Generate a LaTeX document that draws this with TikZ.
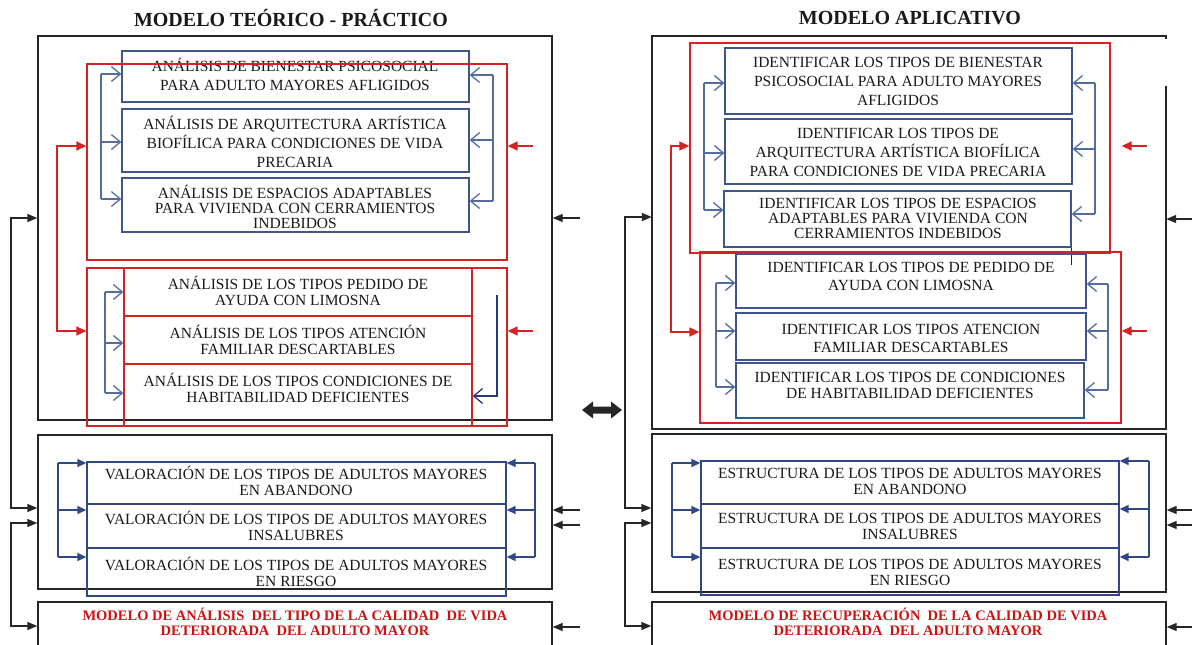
\documentclass[tikz,border=0pt]{standalone}
\usepackage{fontspec}
\setmainfont{Liberation Serif}
\usetikzlibrary{arrows.meta,fit,calc}
\definecolor{bxblue}{RGB}{62,86,140}
\definecolor{rowblue}{RGB}{48,72,132}
\definecolor{cnblue}{RGB}{84,108,160}
\definecolor{navy}{RGB}{36,60,122}
\definecolor{rd}{RGB}{214,34,34}
\definecolor{rdtxt}{RGB}{204,18,18}
\definecolor{blkc}{RGB}{38,38,38}
\definecolor{txtc}{RGB}{25,25,25}
\begin{document}
\begin{tikzpicture}[x=1pt,y=-1pt,
  blk/.style={draw=blkc, line width=1.4pt},
  kbox/.style={draw=blkc, line width=1.4pt, inner sep=0pt},
  bbox/.style={draw=bxblue, line width=1.3pt, inner sep=0pt},
  vbox/.style={draw=rowblue, line width=1.3pt, inner sep=0pt},
  rbox/.style={draw=rd, line width=1.3pt, inner sep=0pt},
  hidden/.style={inner sep=0pt},
  txt/.style={align=center, inner sep=0pt, text=txtc, font=\fontsize{15.5}{#1}\selectfont},
  txt/.default=17,
  rtxt/.style={align=center, inner sep=0pt, text=rdtxt, font=\bfseries\fontsize{14.5}{15}\selectfont},
  ttl/.style={inner sep=0pt, text=txtc, font=\bfseries\fontsize{20}{22}\selectfont},
  cn/.style={draw=cnblue, line width=1.4pt},
  oarr/.style={cn, -{Straight Barb[length=9pt,width=15pt,line width=1.3pt]}},
  navyln/.style={draw=navy, line width=1.4pt},
  farr/.style={draw=rowblue, line width=1.4pt, -{Triangle[length=9pt,width=8pt]}},
  rln/.style={draw=rd, line width=1.4pt},
  rarr/.style={rln, -{Triangle[length=10pt,width=9pt]}},
  rarr2/.style={rln, {Triangle[length=10pt,width=9pt]}-{Triangle[length=10pt,width=9pt]}},
  karr/.style={blk, -{Triangle[length=10pt,width=8pt]}},
  karr2/.style={blk, {Triangle[length=10pt,width=8pt]}-{Triangle[length=10pt,width=8pt]}},
]
\useasboundingbox (0,0) rectangle (1192,645);

% ---------------- titles
\node[ttl] (t1) at (291,18) {MODELO TEÓRICO - PRÁCTICO};
\node[ttl] (t2) at (910,18) {MODELO APLICATIVO};

% ================= LEFT PANEL
\node[kbox, fit={(38,36) (552,420)}] (A1) {};
\node[bbox, fit={(122,51) (469,102)}] (B1) {};
\node[bbox, fit={(122,109) (469,172)}] (B2) {};
\node[bbox, fit={(122,178) (469,232)}] (B3) {};
\node[txt=19] (B1t) at (295,74) {ANÁLISIS DE BIENESTAR PSICOSOCIAL\\PARA ADULTO MAYORES AFLIGIDOS};
\node[txt=19] (B2t) at (295,142) {ANÁLISIS DE ARQUITECTURA ARTÍSTICA\\BIOFÍLICA PARA CONDICIONES DE VIDA\\PRECARIA};
\node[txt=15] (B3t) at (295,207) {ANÁLISIS DE ESPACIOS ADAPTABLES\\PARA VIVIENDA CON CERRAMIENTOS\\INDEBIDOS};
\node[rbox, fit={(87,64) (507,260)}] (R1) {};

% blue brackets group 1
\coordinate (lbA) at (101,74); \coordinate (lbB) at (101,199);
\draw[cn] (lbA) -- (lbB);
\foreach \y/\b [count=\i] in {74/B1,142/B2,199/B3}{
  \coordinate (lb\i) at (101,\y);
  \draw[oarr] (lb\i) -- (\b.west |- lb\i);
}
\coordinate (rbA) at (493,75); \coordinate (rbB) at (493,201);
\draw[cn] (rbA) -- (rbB);
\foreach \y/\b [count=\i] in {75/B1,140/B2,201/B3}{
  \coordinate (rb\i) at (493,\y);
  \draw[oarr] (rb\i) -- (\b.east |- rb\i);
}

% red group 2
\node[rbox, fit={(87,268) (507,426)}] (R2) {};
\node[rbox, fit={(124,268) (472,316)}] (Q1) {};
\node[rbox, fit={(124,316) (472,364)}] (Q2) {};
\node[rbox, fit={(124,364) (472,426)}] (Q3) {};
\node[txt=16] (Q1t) at (298,291) {ANÁLISIS DE LOS TIPOS PEDIDO DE\\AYUDA CON LIMOSNA};
\node[txt=16] (Q2t) at (298,340) {ANÁLISIS DE LOS TIPOS ATENCIÓN\\FAMILIAR DESCARTABLES};
\node[txt=16] (Q3t) at (298,388) {ANÁLISIS DE LOS TIPOS CONDICIONES DE\\HABITABILIDAD DEFICIENTES};
\coordinate (qlA) at (105,292); \coordinate (qlB) at (105,393);
\draw[cn] (qlA) -- (qlB);
\foreach \y/\b [count=\i] in {292/Q1,343/Q2,393/Q3}{
  \coordinate (ql\i) at (105,\y);
  \draw[oarr] (ql\i) -- (\b.west |- ql\i);
}
\coordinate (qrA) at (497,295); \coordinate (qrB) at (497,396);
\draw[navyln, -{Straight Barb[length=9pt,width=15pt,line width=1.3pt]}] (qrA) -- (qrB) -- (Q3.east |- qrB);

% red connectors
\coordinate (rl1) at (57,146); \coordinate (rl2) at (57,331);
\draw[rarr2] (R1.west |- rl1) -- (rl1) -- (rl2) -- (R2.west |- rl2);
\coordinate (rr1) at (533,146); \coordinate (rr2) at (533,331);
\draw[rarr] (rr1) -- (R1.east |- rr1);
\draw[rarr] (rr2) -- (R2.east |- rr2);

% second box
\node[kbox, fit={(38,435) (552,589)}] (A2) {};
\node[vbox, fit={(87,462) (506,504)}] (V1) {};
\node[vbox, fit={(87,504) (506,548)}] (V2) {};
\node[vbox, fit={(87,548) (506,596)}] (V3) {};
\node[txt=16] (V1t) at (296,481) {VALORACIÓN DE LOS TIPOS DE ADULTOS MAYORES\\EN ABANDONO};
\node[txt=16] (V2t) at (296,526) {VALORACIÓN DE LOS TIPOS DE ADULTOS MAYORES\\INSALUBRES};
\node[txt=16] (V3t) at (296,572) {VALORACIÓN DE LOS TIPOS DE ADULTOS MAYORES\\EN RIESGO};
\coordinate (vlA) at (58,463); \coordinate (vlB) at (58,557);
\draw[farr, -] (vlA) -- (vlB);
\foreach \y/\b [count=\i] in {463/V1,510/V2,557/V3}{
  \coordinate (vl\i) at (58,\y);
  \draw[farr] (vl\i) -- (\b.west |- vl\i);
}
\coordinate (vrA) at (535,463); \coordinate (vrB) at (535,557);
\draw[farr, -] (vrA) -- (vrB);
\foreach \y/\b [count=\i] in {463/V1,510/V2,557/V3}{
  \coordinate (vr\i) at (535,\y);
  \draw[farr] (vr\i) -- (\b.east |- vr\i);
}

% third box
\node[kbox, fit={(38,602) (552,660)}] (A3) {};
\node[rtxt] (A3t) at (295,622) {MODELO DE ANÁLISIS~ DEL TIPO DE LA CALIDAD~ DE VIDA\\DETERIORADA~ DEL ADULTO MAYOR};

% black connectors left panel
\coordinate (k1) at (11,218); \coordinate (k2) at (11,508);
\draw[karr2] (A1.west |- k1) -- (k1) -- (k2) -- (A2.west |- k2);
\coordinate (k3) at (11,523); \coordinate (k4) at (11,626);
\draw[karr2] (A2.west |- k3) -- (k3) -- (k4) -- (A3.west |- k4);
\coordinate (kr1) at (580,218); \coordinate (kr2) at (580,510);
\coordinate (kr3) at (580,525); \coordinate (kr4) at (580,627);
\draw[karr] (kr1) -- (A1.east |- kr1);
\draw[karr] (kr2) -- (A2.east |- kr2);
\draw[karr] (kr3) -- (A2.east |- kr3);
\draw[karr] (kr4) -- (A3.east |- kr4);

% double arrow between panels
\fill[blkc] (582,410) -- (593,401.5) -- (593,406.5) -- (611,406.5) -- (611,401.5) -- (622,410)
  -- (611,418.5) -- (611,413.5) -- (593,413.5) -- (593,418.5) -- cycle;

% ================= RIGHT PANEL
\node[hidden, fit={(652,36) (1166,429)}] (C1) {};
\draw[blk, line width=1.7pt] ($(C1.north east)+(0,3)$) -- (C1.north east) -- (C1.north west) -- (C1.south west)
  -- (C1.south east) -- ($(C1.north east)+(0,50)$);
\node[bbox, fit={(725,48) (1072,114)}] (D1) {};
\node[bbox, fit={(725,119) (1072,184)}] (D2) {};
\node[bbox, fit={(724,191) (1071,247)}] (D3) {};
\node[txt=19] (D1t) at (898,81) {IDENTIFICAR LOS TIPOS DE BIENESTAR\\PSICOSOCIAL PARA ADULTO MAYORES\\AFLIGIDOS};
\node[txt=19] (D2t) at (898,152) {IDENTIFICAR LOS TIPOS DE\\ARQUITECTURA ARTÍSTICA BIOFÍLICA\\PARA CONDICIONES DE VIDA PRECARIA};
\node[txt=15] (D3t) at (898,218) {IDENTIFICAR LOS TIPOS DE ESPACIOS\\ADAPTABLES PARA VIVIENDA CON\\CERRAMIENTOS INDEBIDOS};
\node[rbox, fit={(690,43) (1110,253)}] (R3) {};
\draw[blk, line width=1pt] (D3.south east) -- ++(0,17);

\coordinate (dlA) at (704,83); \coordinate (dlB) at (704,210);
\draw[cn] (dlA) -- (dlB);
\foreach \y/\b [count=\i] in {83/D1,153/D2,210/D3}{
  \coordinate (dl\i) at (704,\y);
  \draw[oarr] (dl\i) -- (\b.west |- dl\i);
}
\coordinate (drA) at (1095,83); \coordinate (drB) at (1095,214);
\draw[cn] (drA) -- (drB);
\foreach \y/\b [count=\i] in {83/D1,149/D2,214/D3}{
  \coordinate (dr\i) at (1095,\y);
  \draw[oarr] (dr\i) -- (\b.east |- dr\i);
}

\node[rbox, fit={(700,252) (1121,423)}] (R4) {};
\node[bbox, fit={(736,254) (1086,308)}] (E1) {};
\node[bbox, fit={(736,313) (1086,360)}] (E2) {};
\node[bbox, fit={(736,363) (1084,418)}] (E3) {};
\node[txt=18] (E1t) at (911,276) {IDENTIFICAR LOS TIPOS DE PEDIDO DE\\AYUDA CON LIMOSNA};
\node[txt=18] (E2t) at (911,338) {IDENTIFICAR LOS TIPOS ATENCION\\FAMILIAR DESCARTABLES};
\node[txt=16] (E3t) at (910,385) {IDENTIFICAR LOS TIPOS DE CONDICIONES\\DE HABITABILIDAD DEFICIENTES};
\coordinate (elA) at (716,283); \coordinate (elB) at (716,387);
\draw[cn] (elA) -- (elB);
\foreach \y/\b [count=\i] in {283/E1,331/E2,387/E3}{
  \coordinate (el\i) at (716,\y);
  \draw[oarr] (el\i) -- (\b.west |- el\i);
}
\coordinate (erA) at (1108,284); \coordinate (erB) at (1108,390);
\draw[cn] (erA) -- (erB);
\foreach \y/\b [count=\i] in {284/E1,331/E2,390/E3}{
  \coordinate (er\i) at (1108,\y);
  \draw[oarr] (er\i) -- (\b.east |- er\i);
}

% red connectors right
\coordinate (sl1) at (671,146); \coordinate (sl2) at (671,332);
\draw[rarr2] (R3.west |- sl1) -- (sl1) -- (sl2) -- (R4.west |- sl2);
\coordinate (sr1) at (1147,146); \coordinate (sr2) at (1147,331);
\draw[rarr] (sr1) -- (R4.east |- sr1);
\draw[rarr] (sr2) -- (R4.east |- sr2);

% second box right
\node[kbox, fit={(652,434) (1166,592)}] (C2) {};
\node[vbox, fit={(701,461) (1119,504)}] (S1) {};
\node[vbox, fit={(701,504) (1119,548)}] (S2) {};
\node[vbox, fit={(701,548) (1119,595)}] (S3) {};
\node[txt=16] (S1t) at (910,481) {ESTRUCTURA DE LOS TIPOS DE ADULTOS MAYORES\\EN ABANDONO};
\node[txt=16] (S2t) at (910,526) {ESTRUCTURA DE LOS TIPOS DE ADULTOS MAYORES\\INSALUBRES};
\node[txt=16] (S3t) at (910,572) {ESTRUCTURA DE LOS TIPOS DE ADULTOS MAYORES\\EN RIESGO};
\coordinate (slA) at (672,463); \coordinate (slB) at (672,557);
\draw[farr, -] (slA) -- (slB);
\foreach \y/\b [count=\i] in {463/S1,510/S2,557/S3}{
  \coordinate (sv\i) at (672,\y);
  \draw[farr] (sv\i) -- (\b.west |- sv\i);
}
\coordinate (srA) at (1149,461); \coordinate (srB) at (1149,557);
\draw[farr, -] (srA) -- (srB);
\foreach \y/\b [count=\i] in {461/S1,509/S2,557/S3}{
  \coordinate (sw\i) at (1149,\y);
  \draw[farr] (sw\i) -- (\b.east |- sw\i);
}

% third box right
\node[kbox, fit={(652,602) (1166,660)}] (C3) {};
\node[rtxt] (C3t) at (908,622) {MODELO DE RECUPERACIÓN~ DE LA CALIDAD DE VIDA\\DETERIORADA~ DEL ADULTO MAYOR};

% black connectors right panel
\coordinate (m1) at (625,217); \coordinate (m2) at (625,508);
\draw[karr2] (C1.west |- m1) -- (m1) -- (m2) -- (C2.west |- m2);
\coordinate (m3) at (625,523); \coordinate (m4) at (625,626);
\draw[karr2] (C2.west |- m3) -- (m3) -- (m4) -- (C3.west |- m4);
\coordinate (mr1) at (1192,219); \coordinate (mr2) at (1192,510);
\coordinate (mr3) at (1192,525); \coordinate (mr4) at (1192,627);
\draw[karr] (mr1) -- (C1.east |- mr1);
\draw[karr] (mr2) -- (C2.east |- mr2);
\draw[karr] (mr3) -- (C2.east |- mr3);
\draw[karr] (mr4) -- (C3.east |- mr4);
\end{tikzpicture}
\end{document}
